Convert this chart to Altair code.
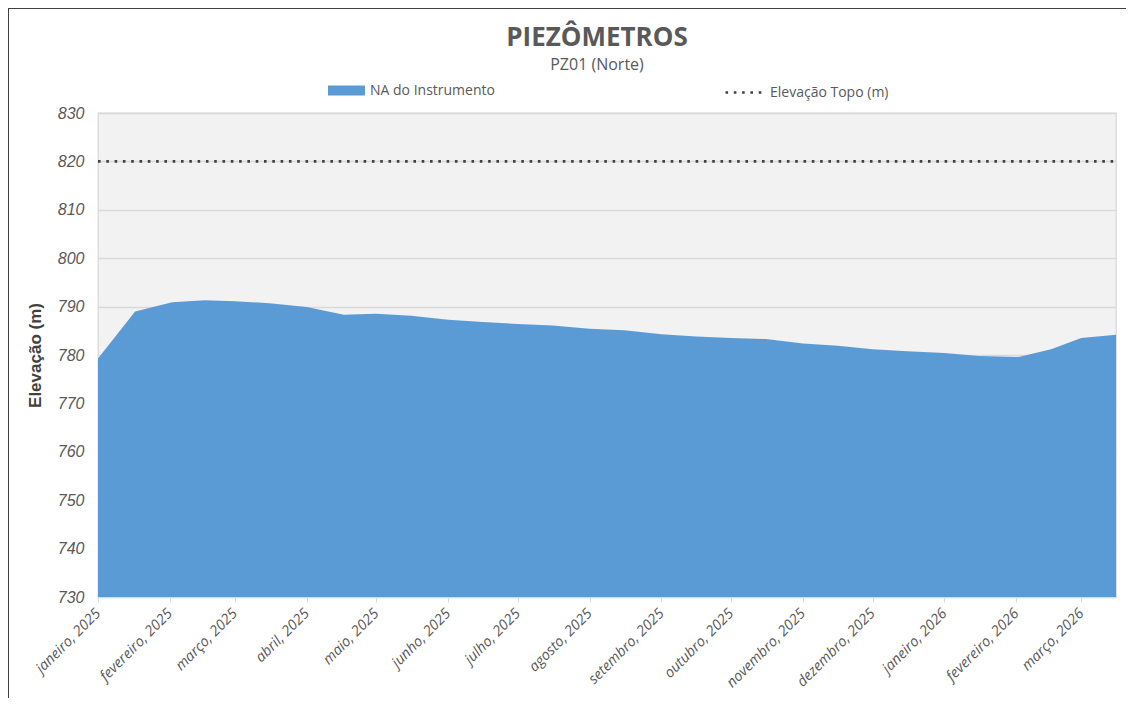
import json
import altair as alt
import pandas as pd

# ---- data -------------------------------------------------------------
dates = [
    "2025-01-01", "2025-01-17", "2025-02-02", "2025-02-16", "2025-03-01",
    "2025-03-16", "2025-04-01", "2025-04-17", "2025-05-01", "2025-05-16",
    "2025-06-01", "2025-06-16", "2025-07-01", "2025-07-16", "2025-08-01",
    "2025-08-16", "2025-09-01", "2025-09-16", "2025-10-01", "2025-10-16",
    "2025-11-01", "2025-11-16", "2025-12-01", "2025-12-16", "2026-01-01",
    "2026-01-16", "2026-02-02", "2026-02-16", "2026-03-01", "2026-03-16",
]
na_values = [
    779.3, 789.0, 790.9, 791.3, 791.1,
    790.7, 789.9, 788.3, 788.5, 788.1,
    787.3, 786.8, 786.4, 786.1, 785.4,
    785.1, 784.3, 783.8, 783.5, 783.3,
    782.4, 781.9, 781.2, 780.8, 780.4,
    779.8, 779.6, 781.2, 783.5, 784.2,
]
topo_dates = ["2025-01-01", "2026-03-16"]
topo_values = [820, 820]

series_na = "NA do Instrumento"
series_topo = "Elevação Topo (m)"
month_names = ["janeiro", "fevereiro", "março", "abril", "maio", "junho",
               "julho", "agosto", "setembro", "outubro", "novembro", "dezembro"]
y_ticks = [730, 740, 750, 760, 770, 780, 790, 800, 810, 820, 830]

df_na = pd.DataFrame({"data": dates, "valor": na_values, "serie": series_na})
df_topo = pd.DataFrame({"data": topo_dates, "valor": topo_values, "serie": series_topo})

# ---- styling ----------------------------------------------------------
W, H = 1018, 484
PAD = {"left": 90, "top": 105, "right": 10, "bottom": 101}
GRAY_TXT = "#595959"
GRID = "#D9D9D9"

label_expr = (json.dumps(month_names, ensure_ascii=False)
              + "[utcmonth(datum.value)] + ', ' + utcyear(datum.value)")

x_enc = alt.X(
    "data:T",
    scale=alt.Scale(type="utc", nice=False),
    axis=alt.Axis(
        title=None, grid=False, labelAngle=-45, labelAlign="right",
        labelBaseline="middle", labelPadding=9, labelExpr=label_expr,
        labelFont="Open Sans", labelFontStyle="italic", labelFontSize=14.5,
        labelColor=GRAY_TXT, tickCount=alt.TimeIntervalStep(interval="month", step=1),
        tickColor=GRID, tickSize=5, domainColor=GRID, labelOverlap=False,
        labelFlush=False,
    ),
)
y_enc = alt.Y(
    "valor:Q",
    scale=alt.Scale(domain=[730, 830], zero=False, nice=False),
    axis=alt.Axis(
        title="Elevação (m)", values=y_ticks, grid=True, gridColor=GRID,
        gridWidth=1.3, ticks=False, domain=False, labelPadding=14,
        labelFont="Liberation Sans", labelFontStyle="italic", labelFontSize=16,
        labelColor=GRAY_TXT, titleFont="Liberation Sans", titleFontSize=17,
        titleFontWeight="bold", titleColor="#404040", titleAngle=-90,
        titleAlign="center", titleBaseline="middle", titleX=-63, titleY=H / 2,
    ),
)

area = alt.Chart(df_na).mark_area(clip=True, opacity=1).encode(
    x=x_enc,
    y=y_enc,
    fill=alt.Fill(
        "serie:N",
        scale=alt.Scale(domain=[series_na], range=["#5B9BD5"]),
        legend=alt.Legend(
            orient="none", legendX=230, legendY=-41, title=None, padding=0,
            symbolType="M-1,-0.27H1V0.27H-1Z", symbolSize=1369,
            symbolStrokeWidth=0, symbolOpacity=1,
            labelFont="Open Sans", labelFontSize=14, labelColor=GRAY_TXT,
            labelOffset=5,
        ),
    ),
)

topo = alt.Chart(df_topo).mark_line(color="#404040", strokeWidth=2.6, clip=True).encode(
    x=alt.X("data:T"),
    y=alt.Y("valor:Q"),
    strokeDash=alt.StrokeDash(
        "serie:N",
        scale=alt.Scale(domain=[series_topo], range=[[2.6, 5.7]]),
        legend=alt.Legend(
            orient="none", legendX=626, legendY=-41, title=None, padding=0,
            symbolType="stroke", symbolSize=1444, symbolStrokeColor="#404040",
            symbolStrokeWidth=2.6,
            labelFont="Open Sans", labelFontSize=14, labelColor=GRAY_TXT,
            labelOffset=5,
        ),
    ),
)

frame_df = pd.DataFrame({"k": [0]})
frame_left = alt.Chart(frame_df).mark_rule(color="#404040", strokeWidth=1, clip=False).encode(
    x=alt.value(-89.5), y=alt.value(-105), y2=alt.value(H + PAD["bottom"])
)
frame_top = alt.Chart(frame_df).mark_rule(color="#404040", strokeWidth=1, clip=False).encode(
    x=alt.value(-90), x2=alt.value(W + PAD["right"]), y=alt.value(-104.5)
)

chart = (
    alt.layer(area, topo, frame_left, frame_top)
    .properties(
        width=W, height=H,
        padding=PAD,
        autosize=alt.AutoSizeParams(type="none"),
        background="white",
        title=alt.Title(
            "PIEZÔMETROS", subtitle="PZ01 (Norte)", anchor="middle", dx=-10,
            dy=67,
            font="Open Sans", fontSize=26, fontWeight="bold", color=GRAY_TXT,
            subtitleFont="Open Sans", subtitleFontSize=16, subtitleColor=GRAY_TXT,
            subtitlePadding=6, offset=2,
        ),
    )
    .configure_view(fill="#F2F2F2", stroke=GRID, strokeWidth=1.3)
)

chart.save("out.html", embed_options={"renderer": "svg", "actions": False})
